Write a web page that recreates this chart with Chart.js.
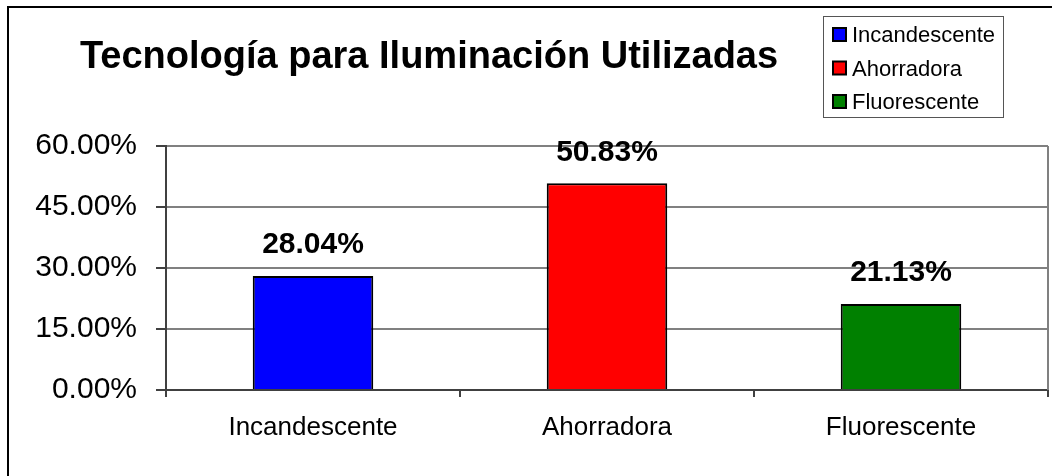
<!DOCTYPE html>
<html>
<head>
<meta charset="utf-8">
<script src="https://cdn.jsdelivr.net/npm/chart.js@4"></script>
<style>
  html, body { margin: 0; padding: 0; background: #fff; }
  #wrap { width: 1052px; height: 476px; }
</style>
</head>
<body>
<div id="wrap"><canvas id="chart" width="1052" height="476"></canvas></div>
<script>
// Chart data
const chartTitle = 'Tecnología para Iluminación Utilizadas';
const categories = ['Incandescente', 'Ahorradora', 'Fluorescente'];
const shares = [28.04, 50.83, 21.13];
const barColors = ['#0000ff', '#ff0000', '#008000'];
const yTicks = [0, 15, 30, 45, 60];

const font = '"Liberation Sans", Arial, sans-serif';

// Draws the outer frame, title, value labels and the boxed legend
const extras = {
    id: 'extras',
    beforeDraw(chart) {
        const ctx = chart.ctx;
        ctx.save();
        ctx.fillStyle = '#fff';
        ctx.fillRect(0, 0, chart.width, chart.height);
        ctx.strokeStyle = '#000';
        ctx.lineWidth = 2;
        ctx.beginPath();
        ctx.moveTo(8, chart.height);
        ctx.lineTo(8, 7);
        ctx.lineTo(chart.width, 7);
        ctx.stroke();
        ctx.restore();
    },
    afterDatasetsDraw(chart) {
        const ctx = chart.ctx;
        const area = chart.chartArea;
        ctx.save();
        // plot area right edge
        ctx.strokeStyle = '#808080';
        ctx.lineWidth = 2;
        ctx.beginPath();
        ctx.moveTo(area.right, area.top);
        ctx.lineTo(area.right, area.bottom);
        ctx.stroke();

        // value labels
        ctx.fillStyle = '#000';
        ctx.font = 'bold 30px ' + font;
        ctx.textAlign = 'center';
        ctx.textBaseline = 'middle';
        chart.getDatasetMeta(0).data.forEach((bar, i) => {
            ctx.fillText(shares[i].toFixed(2) + '%', bar.x, bar.y - 31);
        });

        // title
        ctx.font = 'bold 38px ' + font;
        ctx.fillText(chartTitle, 429, 58);

        // legend
        ctx.strokeStyle = '#555';
        ctx.lineWidth = 1;
        ctx.strokeRect(823.5, 16.5, 180, 101);
        ctx.textAlign = 'left';
        ctx.font = '22px ' + font;
        categories.forEach((c, i) => {
            const cy = 35 + i * 33.5;
            ctx.fillStyle = barColors[i];
            ctx.fillRect(833, cy - 7, 13, 13);
            ctx.strokeStyle = '#000';
            ctx.lineWidth = 2;
            ctx.strokeRect(833, cy - 7, 13, 13);
            ctx.fillStyle = '#000';
            ctx.fillText(c, 852, cy + 1);
        });
        ctx.restore();
    }
};

new Chart(document.getElementById('chart'), {
    type: 'bar',
    data: {
        labels: categories,
        datasets: [{
            data: shares,
            backgroundColor: barColors,
            borderColor: '#000',
            borderWidth: 2,
            categoryPercentage: 1,
            barPercentage: 0.41
        }]
    },
    options: {
        responsive: false,
        animation: false,
        layout: { padding: { top: 146, right: 4, left: 0, bottom: 0 } },
        plugins: {
            legend: { display: false },
            tooltip: { enabled: false }
        },
        scales: {
            x: {
                afterFit(scale) { scale.height = 86; },
                grid: {
                    display: true,
                    offset: true,
                    drawOnChartArea: false,
                    tickLength: 7,
                    color: '#404040',
                    lineWidth: 2
                },
                border: { color: '#404040', width: 2 },
                ticks: {
                    color: '#000',
                    font: { family: font, size: 26 },
                    padding: 15,
                    maxRotation: 0
                }
            },
            y: {
                min: 0,
                max: 60,
                afterFit(scale) { scale.width = 166; },
                afterBuildTicks(scale) {
                    scale.ticks = yTicks.map(v => ({ value: v }));
                },
                grid: {
                    color: '#808080',
                    lineWidth: 2,
                    tickLength: 10,
                    tickColor: '#404040'
                },
                border: { color: '#404040', width: 2 },
                ticks: {
                    color: '#000',
                    font: { family: font, size: 30 },
                    padding: 19,
                    callback: v => v.toFixed(2) + '%'
                }
            }
        }
    },
    plugins: [extras]
});
</script>
</body>
</html>
